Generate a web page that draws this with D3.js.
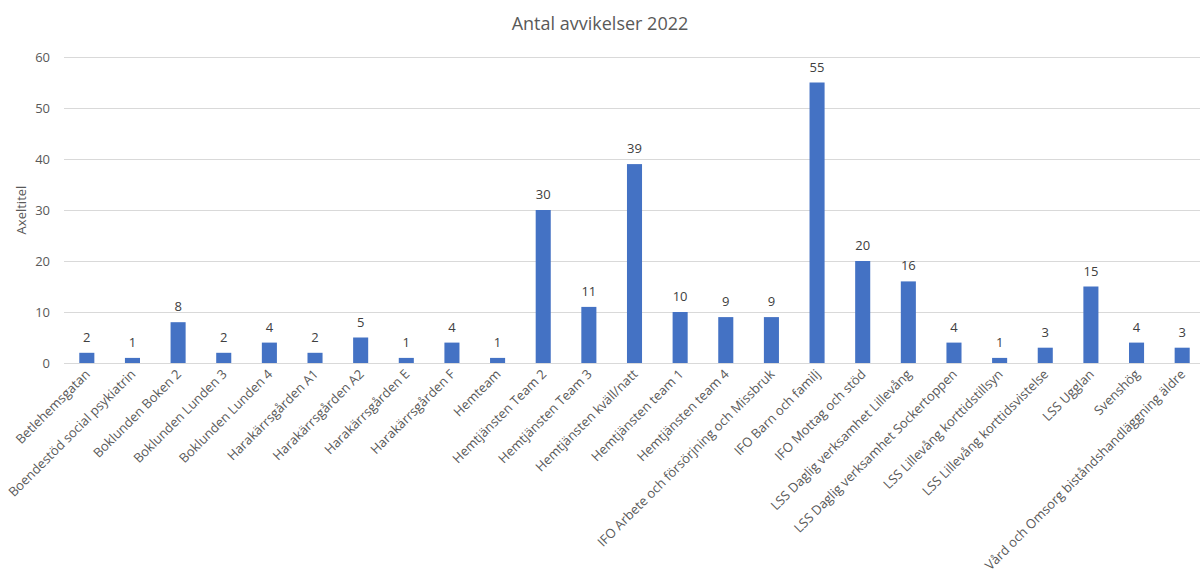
<!DOCTYPE html>
<meta charset="utf-8">
<head>
  <title>Antal avvikelser 2022</title>
</head>
<style>
  body { margin: 0; background: #fff; font-family: "Open Sans", "Noto Sans", sans-serif; }
  .grid line { stroke: #d9d9d9; stroke-width: 1px; }
  .axis text { fill: #595959; font-size: 13px; font-family: "Open Sans", "Noto Sans", sans-serif; }
  .bar { fill: #4472c4; }
  .val { fill: #404040; font-size: 13px; text-anchor: middle; }
</style>
<body>
<svg width="1200" height="571"></svg>
<script src="https://cdn.jsdelivr.net/npm/d3@7"></script>
<script>
// categories and values
var categories = ["Betlehemsgatan", "Boendestöd social psykiatrin", "Boklunden Boken 2", "Boklunden Lunden 3",
  "Boklunden Lunden 4", "Harakärrsgården A1", "Harakärrsgården A2", "Harakärrsgården E", "Harakärrsgården F",
  "Hemteam", "Hemtjänsten Team 2", "Hemtjänsten Team 3", "Hemtjänsten kväll/natt", "Hemtjänsten team 1",
  "Hemtjänsten team 4", "IFO Arbete och försörjning och Missbruk", "IFO Barn och familj", "IFO Mottag och stöd",
  "LSS Daglig verksamhet Lillevång", "LSS Daglig verksamhet Sockertoppen", "LSS Lillevång korttidstillsyn",
  "LSS Lillevång korttidsvistelse", "LSS Ugglan", "Svenshög", "Vård och Omsorg biståndshandläggning äldre"];
var values = [2, 1, 8, 2, 4, 2, 5, 1, 4, 1, 30, 11, 39, 10, 9, 9, 55, 20, 16, 4, 1, 3, 15, 4, 3];
var yTicks = [0, 10, 20, 30, 40, 50, 60];

var svg = d3.select("svg");
var plotLeft = 64, plotRight = 1205, plotTop = 57, plotBottom = 363;

var x = d3.scaleBand().domain(categories).range([plotLeft, plotRight]).paddingInner(0.67).paddingOuter(0.335);
var y = d3.scaleLinear().domain([0, 60]).range([plotBottom, plotTop]);

// title
svg.append("text")
  .attr("x", 600).attr("y", 30)
  .attr("text-anchor", "middle")
  .style("font-size", "18px").style("fill", "#595959")
  .text("Antal avvikelser 2022");

// gridlines
svg.append("g").attr("class", "grid")
  .selectAll("line").data(yTicks).enter().append("line")
  .attr("x1", plotLeft).attr("x2", 1200)
  .attr("y1", function(d) { return Math.round(y(d)) + 0.5; })
  .attr("y2", function(d) { return Math.round(y(d)) + 0.5; });

// y axis labels
var yAxis = svg.append("g").attr("class", "axis")
  .attr("transform", "translate(" + (plotLeft - 14) + ",0)")
  .call(d3.axisLeft(y).tickValues(yTicks).tickSize(0).tickPadding(0));
yAxis.select(".domain").remove();

svg.append("text")
  .attr("transform", "translate(26," + ((plotTop + plotBottom) / 2) + ") rotate(-90)")
  .attr("text-anchor", "middle")
  .style("font-size", "13px").style("fill", "#595959")
  .text("Axeltitel");

// bars
svg.selectAll(".bar").data(values).enter().append("rect")
  .attr("class", "bar")
  .attr("x", function(d, i) { return x(categories[i]); })
  .attr("width", x.bandwidth())
  .attr("y", function(d) { return y(d); })
  .attr("height", function(d) { return y(0) - y(d); });

// value labels
svg.selectAll(".val").data(values).enter().append("text")
  .attr("class", "val")
  .attr("x", function(d, i) { return x(categories[i]) + x.bandwidth() / 2; })
  .attr("y", function(d) { return y(d) - 11; })
  .text(function(d) { return d; });

// x axis
var xAxis = svg.append("g").attr("class", "axis")
  .attr("transform", "translate(0," + plotBottom + ")")
  .call(d3.axisBottom(x).tickSize(0).tickPadding(0));
xAxis.select(".domain").attr("stroke", "#d9d9d9");
xAxis.selectAll("text")
  .attr("text-anchor", "end")
  .attr("dy", null)
  .attr("y", 0)
  .attr("transform", "translate(4,12) rotate(-45)");
</script>
</body>
